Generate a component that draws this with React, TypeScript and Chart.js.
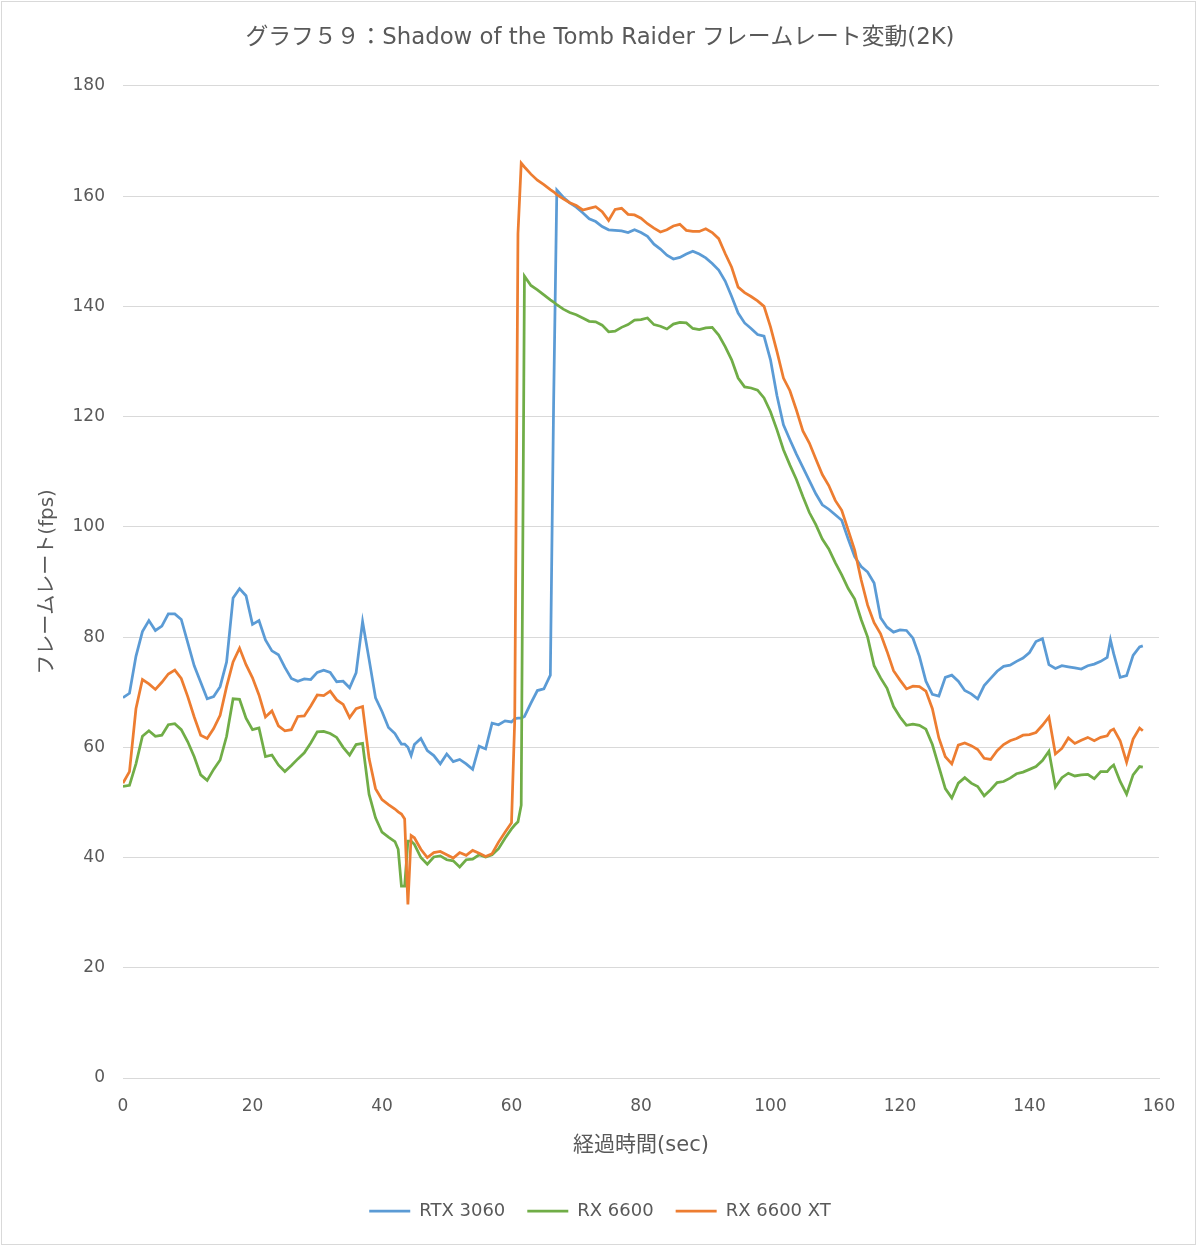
import React, { useEffect, useRef } from "react";
import { Chart, registerables } from "chart.js";

Chart.register(...registerables);

// elapsed time (sec)
const TIME = [
  0, 1, 2, 3, 4, 5, 6, 7, 8, 9, 10, 11, 12, 13, 14, 15, 16, 17, 18, 19, 20,
  21, 22, 23, 24, 25, 26, 27, 28, 29, 30, 31, 32, 33, 34, 35, 36, 37, 38, 39, 40, 41, 42,
  42.5, 43, 43.5, 44, 44.5,
  45, 46, 47, 48, 49, 50, 51, 52, 53, 54, 55, 56, 57, 58, 59, 60,
  60.5, 61, 61.5, 62,
  63, 64, 65, 66,
  66.5,
  67, 68, 69, 70, 71, 72, 73, 74, 75, 76, 77, 78, 79, 80, 81, 82, 83, 84, 85, 86,
  87, 88, 89, 90, 91, 92, 93, 94, 95, 96, 97, 98, 99, 100, 101, 102, 103, 104, 105, 106,
  107, 108, 109, 110, 111, 112, 113, 114, 115, 116, 117, 118, 119, 120, 121, 122, 123, 124, 125, 126,
  127, 128, 129, 130, 131, 132, 133, 134, 135, 136, 137, 138, 139, 140, 141, 142, 143, 144, 145, 146,
  147, 148, 149, 150, 151, 152,
  152.5,
  153, 154, 155, 156, 157,
  157.5,
];

const RTX3060 = [
  69.0, 69.8, 76.5, 81.0, 83.0, 81.2, 82.0, 84.2, 84.2, 83.2, 79.0, 74.8, 71.8, 68.8, 69.2, 71.0, 75.5, 87.1, 88.8, 87.5, 82.3,
  83.0, 79.5, 77.5, 76.8, 74.5, 72.5, 72.0, 72.4, 72.3, 73.6, 74.0, 73.6, 71.9, 72.0, 70.8, 73.5, 82.8, 76.0, 69.0, 66.5, 63.6, 62.5,
  61.5, 60.6, 60.6, 60.0, 58.5,
  60.5, 61.6, 59.4, 58.5, 57.0, 58.8, 57.4, 57.8, 57.0, 56.0, 60.2, 59.7, 64.4, 64.1, 64.8, 64.6,
  65.2, 65.3, 65.3, 65.6,
  68.0, 70.3, 70.6, 73.1,
  122.0,
  161.1, 159.8, 158.8, 158.0, 157.0, 155.9, 155.4, 154.5, 153.9, 153.8, 153.7, 153.4, 153.9, 153.4, 152.7, 151.3, 150.4, 149.3, 148.6, 148.9,
  149.5, 150.0, 149.5, 148.8, 147.8, 146.6, 144.6, 141.8, 138.8, 137.0, 136.0, 134.9, 134.6, 130.3, 123.8, 118.5, 115.8, 113.2, 110.8, 108.4,
  106.0, 104.0, 103.2, 102.2, 101.2, 97.8, 94.6, 92.8, 91.8, 89.8, 83.5, 81.8, 80.9, 81.3, 81.2, 79.8, 76.5, 72.0, 69.6, 69.3,
  72.7, 73.1, 72.0, 70.3, 69.7, 68.8, 71.2, 72.5, 73.8, 74.7, 74.9, 75.6, 76.2, 77.2, 79.2, 79.7, 75.0, 74.3, 74.8, 74.6,
  74.4, 74.2, 74.8, 75.1, 75.6, 76.3,
  79.5,
  77.0, 72.7, 73.0, 76.7, 78.2,
  78.4,
];

const RX6600 = [
  52.9, 53.1, 57.0, 62.0, 63.0, 62.0, 62.2, 64.1, 64.3, 63.2, 61.0, 58.3, 55.0, 54.0, 56.0, 57.7, 62.0, 68.8, 68.7, 65.3, 63.2,
  63.5, 58.3, 58.6, 56.8, 55.6, 56.7, 57.9, 59.0, 60.8, 62.8, 62.9, 62.5, 61.8, 60.0, 58.6, 60.5, 60.7, 51.5, 47.2, 44.6, 43.7, 42.9,
  41.5, 34.8, 34.8, 43.0, 43.0,
  42.4, 40.0, 38.8, 40.1, 40.3, 39.6, 39.4, 38.3, 39.6, 39.7, 40.5, 40.1, 40.5, 41.6, 43.5, 45.2,
  45.9, 46.5, 49.5, 145.5,
  143.8, 143.0, 142.1, 141.2,
  140.8,
  140.3, 139.5, 138.9, 138.5, 137.9, 137.3, 137.2, 136.6, 135.4, 135.5, 136.2, 136.7, 137.5, 137.6, 137.9, 136.7, 136.4, 135.9, 136.8, 137.1,
  137.0, 136.0, 135.8, 136.1, 136.2, 134.8, 132.7, 130.3, 127.0, 125.4, 125.2, 124.8, 123.4, 120.9, 117.6, 114.0, 111.2, 108.6, 105.5, 102.6,
  100.4, 97.8, 96.0, 93.5, 91.3, 88.8, 86.9, 83.2, 80.0, 74.8, 72.6, 70.7, 67.4, 65.5, 64.0, 64.2, 64.0, 63.3, 60.5, 56.5,
  52.5, 50.8, 53.5, 54.5, 53.5, 52.9, 51.2, 52.3, 53.6, 53.8, 54.4, 55.2, 55.5, 56.0, 56.5, 57.6, 59.3, 52.8, 54.5, 55.3,
  54.8, 55.0, 55.1, 54.3, 55.6, 55.6,
  56.3,
  56.8, 53.8, 51.5, 55.0, 56.5,
  56.4,
];

const RX6600XT = [
  53.5, 55.6, 67.0, 72.3, 71.5, 70.5, 71.8, 73.3, 74.0, 72.5, 69.2, 65.5, 62.2, 61.6, 63.4, 65.8, 71.0, 75.5, 78.0, 75.0, 72.6,
  69.5, 65.5, 66.6, 63.9, 63.0, 63.2, 65.6, 65.7, 67.5, 69.5, 69.4, 70.2, 68.6, 67.8, 65.4, 67.0, 67.4, 58.0, 52.5, 50.5, 49.6, 48.8,
  48.3, 47.9, 47.0, 31.5, 44.0,
  43.6, 41.5, 40.0, 40.9, 41.1, 40.5, 39.9, 40.9, 40.4, 41.3, 40.8, 40.2, 40.7, 42.8, 44.6, 46.3,
  65.0, 153.2, 166.0, 165.3,
  164.0, 162.9, 162.1, 161.2,
  160.8,
  160.3, 159.5, 158.8, 158.3, 157.5, 157.8, 158.1, 157.2, 155.6, 157.6, 157.8, 156.7, 156.6, 156.0, 155.0, 154.2, 153.5, 153.9, 154.6, 154.9,
  153.8, 153.6, 153.6, 154.1, 153.4, 152.3, 149.6, 147.1, 143.5, 142.5, 141.8, 141.0, 140.0, 136.3, 131.8, 127.0, 124.7, 121.2, 117.4, 115.2,
  112.3, 109.5, 107.5, 104.8, 103.0, 99.4, 95.8, 90.4, 85.8, 82.6, 80.6, 77.4, 73.9, 72.2, 70.6, 71.1, 71.0, 70.2, 67.0, 61.7,
  58.3, 57.0, 60.4, 60.8, 60.3, 59.6, 58.0, 57.8, 59.4, 60.5, 61.2, 61.6, 62.2, 62.3, 62.7, 64.0, 65.5, 58.8, 59.8, 61.7,
  60.7, 61.3, 61.8, 61.2, 61.8, 62.1,
  63.0,
  63.3, 61.2, 57.3, 61.5, 63.5,
  63.0,
];

const SERIES_NAMES = ["RTX 3060", "RX 6600", "RX 6600 XT"];
const SERIES_COLORS = ["#5B9BD5", "#70AD47", "#ED7D31"];
const SERIES_VALUES = [RTX3060, RX6600, RX6600XT];

const TITLE = "グラフ５９：Shadow of the Tomb Raider フレームレート変動(2K)";
const X_TITLE = "経過時間(sec)";
const Y_TITLE = "フレームレート(fps)";
const X_MIN = 0;
const X_MAX = 160;
const X_STEP = 20;
const Y_MIN = 0;
const Y_MAX = 180;
const Y_STEP = 20;

const FONT = '"DejaVu Sans", "Noto Sans CJK JP", sans-serif';
const TEXT_COLOR = "#595959";
const GRID_COLOR = "#D9D9D9";

const framePlugin = {
  id: "frame",
  beforeDraw(chart: any) {
    const { ctx, width, height } = chart;
    ctx.save();
    ctx.fillStyle = "#ffffff";
    ctx.fillRect(0, 0, width, height);
    ctx.restore();
  },
  afterDraw(chart: any) {
    const { ctx } = chart;
    ctx.save();
    ctx.strokeStyle = GRID_COLOR;
    ctx.lineWidth = 1;
    ctx.strokeRect(1.5, 1.5, 1194, 1243);
    ctx.restore();
  },
};

export default function App() {
  const ref = useRef<HTMLCanvasElement>(null);

  useEffect(() => {
    if (!ref.current) return;
    const datasets = SERIES_NAMES.map((name, si) => ({
      label: name,
      data: TIME.map((t, i) => ({ x: t, y: SERIES_VALUES[si][i] })),
      borderColor: SERIES_COLORS[si],
      backgroundColor: SERIES_COLORS[si],
      borderWidth: 2.75,
      pointRadius: 0,
      pointHoverRadius: 0,
      tension: 0,
      fill: false,
      order: 2 - si,
    }));

    const chart = new Chart(ref.current, {
      type: "line",
      data: { datasets },
      plugins: [framePlugin],
      options: {
        animation: false,
        responsive: false,
        devicePixelRatio: 1,
        layout: { padding: { left: 0, right: 0, top: 0, bottom: 17 } },
        plugins: {
          title: {
            display: true,
            text: TITLE,
            color: TEXT_COLOR,
            font: { family: FONT, size: 22.8, weight: "normal" },
            padding: { top: 24.3, bottom: 34.3 },
          },
          legend: {
            position: "bottom",
            labels: {
              boxWidth: 41,
              boxHeight: 0,
              padding: 22,
              color: TEXT_COLOR,
              font: { family: FONT, size: 18 },
              sort: (a: any, b: any) => a.datasetIndex - b.datasetIndex,
            },
          },
          tooltip: { enabled: false },
        },
        scales: {
          x: {
            type: "linear",
            min: X_MIN,
            max: X_MAX,
            ticks: {
              stepSize: X_STEP,
              color: TEXT_COLOR,
              font: { family: FONT, size: 17 },
              padding: 18,
            },
            grid: { display: false, drawTicks: false },
            border: { display: true, color: GRID_COLOR, width: 1 },
            title: {
              display: true,
              text: X_TITLE,
              color: TEXT_COLOR,
              font: { family: FONT, size: 21 },
              padding: { top: 0, bottom: 21.5 },
            },
            afterFit: (s: any) => {
              s.height = 102;
            },
          },
          y: {
            type: "linear",
            min: Y_MIN,
            max: Y_MAX,
            ticks: {
              stepSize: Y_STEP,
              color: TEXT_COLOR,
              font: { family: FONT, size: 17 },
              padding: 18,
            },
            grid: { color: GRID_COLOR, lineWidth: 1, drawTicks: false },
            border: { display: false },
            title: {
              display: true,
              text: Y_TITLE,
              color: TEXT_COLOR,
              font: { family: FONT, size: 20 },
              padding: { top: 36, bottom: 0 },
            },
            afterFit: (s: any) => {
              s.width = 123;
            },
          },
          yRight: {
            type: "linear",
            position: "right",
            min: 0,
            max: 1,
            display: true,
            grid: { display: false, drawTicks: false },
            ticks: { display: false },
            border: { display: false },
            afterFit: (s: any) => {
              s.width = 41;
            },
          },
        },
      } as any,
    });
    return () => chart.destroy();
  }, []);

  return (
    <div style={{ position: "absolute", left: 0, top: 0, width: 1200, height: 1247, background: "#fff" }}>
      <canvas ref={ref} width={1200} height={1247} style={{ display: "block", width: 1200, height: 1247 }} />
    </div>
  );
}
